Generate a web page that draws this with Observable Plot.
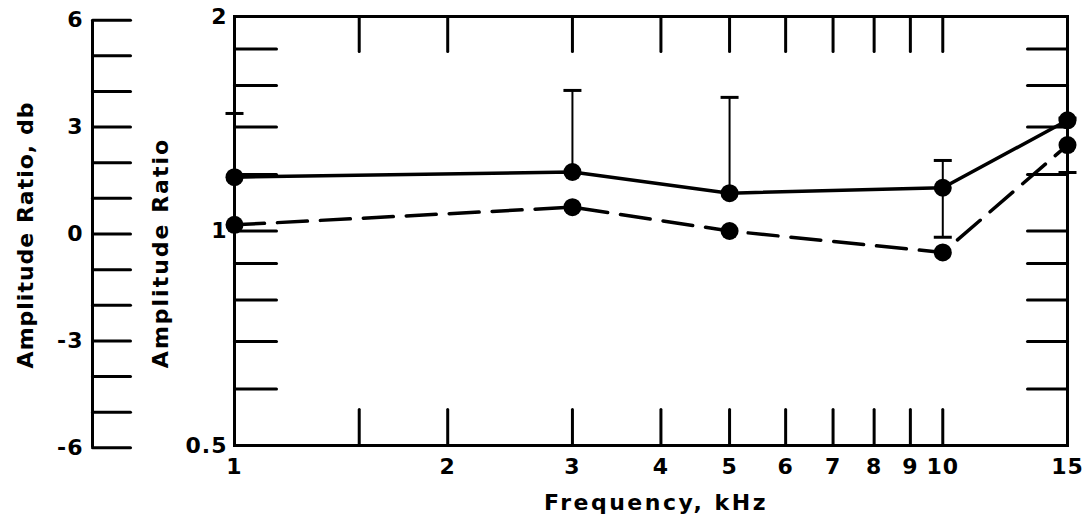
<!DOCTYPE html>
<html>
<head>
<meta charset="utf-8">
<script src="https://cdn.jsdelivr.net/npm/d3@7"></script>
<script src="https://cdn.jsdelivr.net/npm/@observablehq/plot@0.6"></script>
<style>
  body { margin: 0; background: #fff; }
  #chart svg { font-family: "DejaVu Sans", sans-serif; }
  #chart svg text { letter-spacing: 1px; font-weight: bold; }
  #chart svg .title-x text { letter-spacing: 2.5px; }
  #chart svg .title-y text { letter-spacing: 2px; }
</style>
</head>
<body>
<div id="chart"></div>
<script>
// Measured amplitude ratio against frequency (kHz)
const freqs = [1, 3, 5, 10, 15];
const ratioMean = [1.19, 1.21, 1.13, 1.15, 1.43];      // solid line
const ratioAlt = [1.02, 1.08, 1.0, 0.933, 1.32];       // dashed line
const errLow = [1.19, 1.21, 1.13, 0.98, 1.208];        // error bar lower ends
const errHigh = [1.462, 1.575, 1.54, 1.256, 1.44];     // error bar upper ends

// Axes
const xDomain = [1, 15];
const yDomain = [0.5, 2];
const freqTicks = [1.5, 2, 3, 4, 5, 6, 7, 8, 9, 10];
const freqLabels = [1, 2, 3, 4, 5, 6, 7, 8, 9, 10, 15];
const ratioTicks = [0.6, 0.7, 0.8, 0.9, 1, 1.2, 1.4, 1.6, 1.8];
const ratioLabels = [0.5, 1, 2];
const dbTicks = [-6, -5, -4, -3, -2, -1, 0, 1, 2, 3, 4, 5, 6];
const dbLabels = [-6, -3, 0, 3, 6];

const xTitle = "Frequency, kHz";
const yTitle = "Amplitude Ratio";
const yTitleDb = "Amplitude Ratio, db";

const rows = freqs.map((f, i) => ({f, mean: ratioMean[i], alt: ratioAlt[i], lo: errLow[i], hi: errHigh[i]}));
const dbToRatio = (db) => Math.pow(10, db / 20);

// a straight tick line drawn from the anchor point
const stick = {draw(context, length) { context.moveTo(0, 0); context.lineTo(0, -length); }};
// horizontal error-bar cap
const cap = {draw(context) { context.moveTo(-9, 0); context.lineTo(9, 0); }};

const ink = "#000";
const fs = 22;

const chart = Plot.plot({
  width: 1084,
  height: 522,
  marginLeft: 234,
  marginRight: 17,
  marginTop: 16,
  marginBottom: 77,
  x: {type: "log", domain: xDomain},
  y: {type: "log", domain: yDomain},
  marks: [
    Plot.frame({stroke: ink, strokeWidth: 3}),
    // inward ticks on all four sides
    Plot.vector(ratioTicks, {y: d => d, frameAnchor: "left", rotate: 90, length: 42, anchor: "start", shape: stick, stroke: ink, strokeWidth: 3}),
    Plot.vector(ratioTicks, {y: d => d, frameAnchor: "right", rotate: -90, length: 40, anchor: "start", shape: stick, stroke: ink, strokeWidth: 3}),
    Plot.vector(freqTicks, {x: d => d, frameAnchor: "top", rotate: 180, length: 35, anchor: "start", shape: stick, stroke: ink, strokeWidth: 3}),
    Plot.vector(freqTicks, {x: d => d, frameAnchor: "bottom", rotate: 0, length: 36, anchor: "start", shape: stick, stroke: ink, strokeWidth: 3}),
    Plot.axisX(freqLabels, {tickSize: 0, tickPadding: 13, tickFormat: d => String(d), fontSize: fs, label: null}),
    Plot.axisY(ratioLabels, {tickSize: 0, tickPadding: 7, tickFormat: d => String(d), fontSize: fs, label: null}),
    // secondary decibel scale on the far left
    Plot.ruleX([xDomain[0]], {y1: dbToRatio(dbTicks[dbTicks.length - 1]), y2: dbToRatio(dbTicks[0]), dx: -142, dy: 3, stroke: ink, strokeWidth: 3}),
    Plot.vector(dbTicks, {y: dbToRatio, frameAnchor: "left", dx: -142, dy: 3, rotate: 90, length: 38, anchor: "start", shape: stick, stroke: ink, strokeWidth: 3}),
    Plot.text(dbLabels, {y: dbToRatio, text: d => d < 0 ? "-" + (-d) : String(d), frameAnchor: "left", dx: -151, dy: 3, textAnchor: "end", fontSize: fs, fill: ink}),
    // axis titles
    Plot.text([yTitleDb], {text: d => d, frameAnchor: "left", textAnchor: "middle", lineAnchor: "middle", dx: -209, dy: 4, rotate: -90, fontSize: fs, fill: ink}),
    Plot.text([yTitle], {text: d => d, frameAnchor: "left", textAnchor: "middle", lineAnchor: "middle", dx: -74, dy: 22, rotate: -90, fontSize: fs, fill: ink, className: "title-y"}),
    Plot.text([xTitle], {text: d => d, frameAnchor: "bottom", textAnchor: "middle", lineAnchor: "middle", dx: 5, dy: 57, fontSize: fs, fill: ink, className: "title-x"}),
    // error bars
    Plot.ruleX(rows, {x: "f", y1: "lo", y2: "hi", stroke: ink, strokeWidth: 2}),
    Plot.dot(rows, {x: "f", y: "hi", symbol: cap, stroke: ink, strokeWidth: 3}),
    Plot.dot(rows.filter(d => d.lo < d.mean), {x: "f", y: "lo", symbol: cap, stroke: ink, strokeWidth: 3}),
    // series
    Plot.line(rows, {x: "f", y: "alt", stroke: ink, strokeWidth: 3.5, strokeDasharray: "30,13"}),
    Plot.line(rows, {x: "f", y: "mean", stroke: ink, strokeWidth: 3.5}),
    Plot.dot(rows, {x: "f", y: "alt", r: 9, fill: ink, stroke: "none"}),
    Plot.dot(rows, {x: "f", y: "mean", r: 9, fill: ink, stroke: "none"})
  ]
});

document.getElementById("chart").appendChild(chart);
</script>
</body>
</html>
